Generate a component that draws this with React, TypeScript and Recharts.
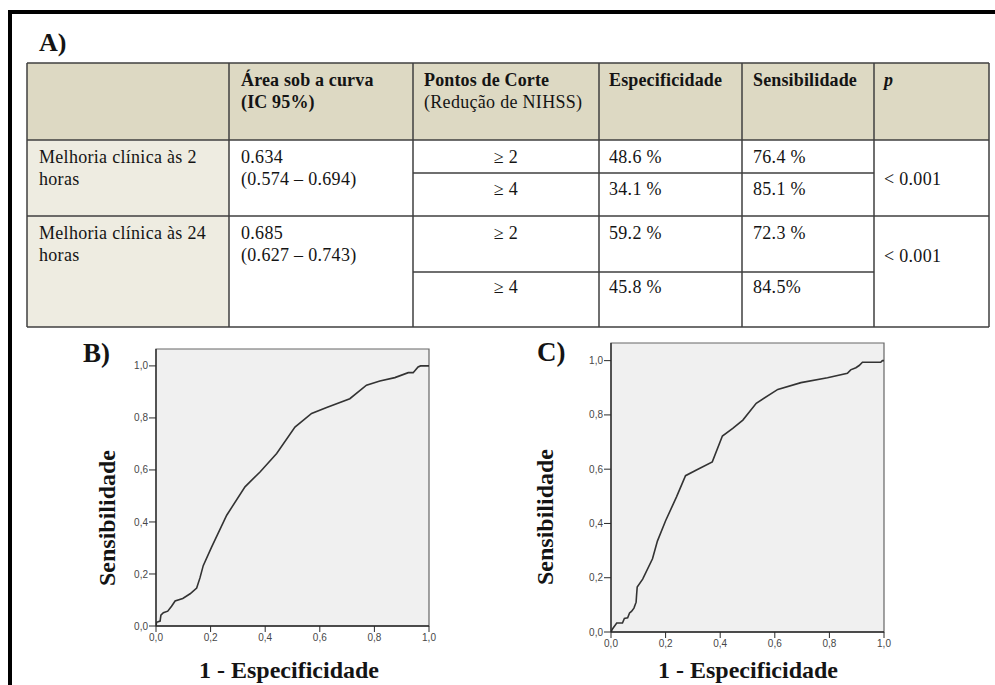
import React from "react";
import { LineChart, Line, XAxis, YAxis, CartesianGrid, ReferenceArea } from "recharts";

// eixos das curvas ROC
const TICKS = [0, 0.2, 0.4, 0.6, 0.8, 1.0];
const TICK_LABELS = ["0,0", "0,2", "0,4", "0,6", "0,8", "1,0"];
const Y_MAX = 1.065;

// B) melhoria clínica às 2 horas
const B_FPR = [0, 0.002, 0.015, 0.018, 0.027, 0.043, 0.057, 0.07, 0.098, 0.125, 0.149, 0.161, 0.173, 0.204, 0.259, 0.326, 0.381, 0.442, 0.509, 0.57, 0.625, 0.71, 0.771, 0.82, 0.875, 0.924, 0.942, 0.96, 0.969, 1.0];
const B_SENS = [0, 0.014, 0.019, 0.042, 0.051, 0.057, 0.076, 0.096, 0.106, 0.124, 0.146, 0.185, 0.232, 0.304, 0.426, 0.535, 0.592, 0.663, 0.765, 0.817, 0.84, 0.874, 0.926, 0.942, 0.955, 0.974, 0.974, 0.996, 1.0, 1.0];

// C) melhoria clínica às 24 horas
const C_FPR = [0, 0.006, 0.021, 0.042, 0.049, 0.061, 0.068, 0.075, 0.084, 0.092, 0.094, 0.096, 0.116, 0.152, 0.17, 0.2, 0.24, 0.273, 0.313, 0.371, 0.408, 0.446, 0.483, 0.532, 0.611, 0.696, 0.793, 0.866, 0.878, 0.897, 0.909, 0.921, 0.988, 0.994, 1.0];
const C_SENS = [0, 0.012, 0.033, 0.033, 0.05, 0.052, 0.07, 0.076, 0.088, 0.11, 0.14, 0.166, 0.195, 0.27, 0.335, 0.41, 0.498, 0.576, 0.597, 0.627, 0.722, 0.75, 0.781, 0.843, 0.894, 0.919, 0.937, 0.953, 0.966, 0.974, 0.982, 0.994, 0.994, 1.0, 1.0];

// tabela A)
const ROW_LABELS = [["Melhoria clínica às 2", "horas"], ["Melhoria clínica às 24", "horas"]];
const AUC = ["0.634", "0.685"];
const AUC_CI = ["(0.574 – 0.694)", "(0.627 – 0.743)"];
const CUTOFFS = ["≥ 2", "≥ 4"];
const SPEC = [["48.6 %", "34.1 %"], ["59.2 %", "45.8 %"]];
const SENS = [["76.4 %", "85.1 %"], ["72.3 %", "84.5%"]];
const P_VALUES = ["< 0.001", "< 0.001"];

const SERIF = "'Liberation Serif', 'Times New Roman', serif";
const SANS = "'Liberation Sans', Arial, sans-serif";
const INK = "#141414";
const LINE = "#3f3f3f";

// geometria da tabela
const COLS = [27, 229, 413, 599, 742, 874, 989];
const Y_HEAD = 63, Y_R1 = 140, Y_R1B = 173, Y_R2 = 216, Y_R2B = 272, Y_END = 327;

const fmt = (v: number) => TICK_LABELS[TICKS.indexOf(v)] ?? String(v);

function Roc({ fpr, sens, left, top, height }: { fpr: number[]; sens: number[]; left: number; top: number; height: number }) {
  const data = fpr.map((x, i) => ({ x, y: sens[i] }));
  const tick = { fontSize: 10, fill: "#474747", fontFamily: SANS };
  return (
    <div style={{ position: "absolute", left, top }}>
      <LineChart width={343} height={height} data={data} margin={{ top: 10, right: 20, left: 0, bottom: 0 }}>
        <CartesianGrid fill="#f0f0f0" horizontal={false} vertical={false} />
        <ReferenceArea x1={0} x2={1} y1={0} y2={Y_MAX} fill="none" stroke="#666" strokeWidth={1.2} />
        <XAxis
          type="number" dataKey="x" domain={[0, 1]} ticks={TICKS} tickFormatter={fmt}
          height={30} tickSize={6} tickMargin={2} tick={tick}
          axisLine={{ stroke: "#2a2a2a", strokeWidth: 1.3 }} tickLine={{ stroke: "#2a2a2a" }}
          allowDataOverflow
        />
        <YAxis
          type="number" domain={[0, Y_MAX]} ticks={TICKS} tickFormatter={fmt}
          width={50} tickSize={7} tickMargin={1} tick={tick}
          axisLine={{ stroke: "#2a2a2a", strokeWidth: 1.3 }} tickLine={{ stroke: "#2a2a2a" }}
          allowDataOverflow
        />
        <Line type="linear" dataKey="y" stroke="#333" strokeWidth={1.6} dot={false} isAnimationActive={false} />
      </LineChart>
    </div>
  );
}

function T({ x, y, children, bold, italic, anchor }: any) {
  return (
    <text x={x} y={y} fontFamily={SERIF} fontSize={18} fill={INK} letterSpacing={bold ? 0.15 : 0.3}
      fontWeight={bold ? 700 : 400} fontStyle={italic ? "italic" : "normal"} textAnchor={anchor || "start"}>
      {children}
    </text>
  );
}

export default function App() {
  const mid3 = (COLS[2] + COLS[3]) / 2;
  return (
    <div style={{ position: "absolute", left: 0, top: 0, width: 995, height: 685, overflow: "hidden", background: "#fff" }}>
      <svg width={995} height={685} style={{ position: "absolute", left: 0, top: 0 }}>
        {/* moldura */}
        <rect x={10} y={12} width={1010} height={700} fill="none" stroke="#000" strokeWidth={4} />

        {/* fundos */}
        <rect x={COLS[0]} y={Y_HEAD} width={COLS[6] - COLS[0]} height={Y_R1 - Y_HEAD} fill="#ddd9c3" />
        <rect x={COLS[0]} y={Y_R1} width={COLS[1] - COLS[0]} height={Y_END - Y_R1} fill="#eeece1" />

        {/* linhas */}
        <g stroke={LINE} strokeWidth={1.5}>
          {[Y_HEAD, Y_R1, Y_R2, Y_END].map((y) => (
            <line key={y} x1={COLS[0]} x2={COLS[6]} y1={y} y2={y} />
          ))}
          {[Y_R1B, Y_R2B].map((y) => (
            <line key={y} x1={COLS[2]} x2={COLS[5]} y1={y} y2={y} />
          ))}
          {COLS.map((x) => (
            <line key={x} x1={x} x2={x} y1={Y_HEAD} y2={Y_END} />
          ))}
        </g>

        <text x={39} y={51} fontFamily={SERIF} fontSize={26} fontWeight={700} fill={INK}>A)</text>

        {/* cabeçalho */}
        <T x={241} y={86} bold>Área sob a curva</T>
        <T x={241} y={108} bold>(IC 95%)</T>
        <T x={424} y={86} bold>Pontos de Corte</T>
        <T x={424} y={108}>(Redução de NIHSS)</T>
        <T x={609} y={86} bold>Especificidade</T>
        <T x={753} y={86} bold>Sensibilidade</T>
        <T x={884} y={86} bold italic>p</T>

        {/* linha 1 */}
        <T x={39} y={163}>{ROW_LABELS[0][0]}</T>
        <T x={39} y={185}>{ROW_LABELS[0][1]}</T>
        <T x={241} y={163}>{AUC[0]}</T>
        <T x={241} y={185}>{AUC_CI[0]}</T>
        <T x={mid3} y={163} anchor="middle">{CUTOFFS[0]}</T>
        <T x={mid3} y={195} anchor="middle">{CUTOFFS[1]}</T>
        <T x={609} y={163}>{SPEC[0][0]}</T>
        <T x={609} y={195}>{SPEC[0][1]}</T>
        <T x={753} y={163}>{SENS[0][0]}</T>
        <T x={753} y={195}>{SENS[0][1]}</T>
        <T x={884} y={185}>{P_VALUES[0]}</T>

        {/* linha 2 */}
        <T x={39} y={239}>{ROW_LABELS[1][0]}</T>
        <T x={39} y={261}>{ROW_LABELS[1][1]}</T>
        <T x={241} y={239}>{AUC[1]}</T>
        <T x={241} y={261}>{AUC_CI[1]}</T>
        <T x={mid3} y={239} anchor="middle">{CUTOFFS[0]}</T>
        <T x={mid3} y={293} anchor="middle">{CUTOFFS[1]}</T>
        <T x={609} y={239}>{SPEC[1][0]}</T>
        <T x={609} y={293}>{SPEC[1][1]}</T>
        <T x={753} y={239}>{SENS[1][0]}</T>
        <T x={753} y={293}>{SENS[1][1]}</T>
        <T x={884} y={262}>{P_VALUES[1]}</T>

        {/* títulos dos gráficos */}
        <text x={83} y={362} fontFamily={SERIF} fontSize={27} fontWeight={700} fill={INK}>B)</text>
        <text x={537} y={361} fontFamily={SERIF} fontSize={27} fontWeight={700} fill={INK}>C)</text>
        <text x={115} y={518} transform="rotate(-90 115 518)" textAnchor="middle" fontFamily={SERIF} fontSize={24} fontWeight={700} fill={INK}>Sensibilidade</text>
        <text x={553} y={517} transform="rotate(-90 553 517)" textAnchor="middle" fontFamily={SERIF} fontSize={24} fontWeight={700} fill={INK}>Sensibilidade</text>
        <text x={289} y={678} textAnchor="middle" fontFamily={SERIF} fontSize={24} fontWeight={700} fill={INK}>1 - Especificidade</text>
        <text x={748} y={678} textAnchor="middle" fontFamily={SERIF} fontSize={24} fontWeight={700} fill={INK}>1 - Especificidade</text>
      </svg>

      <Roc fpr={B_FPR} sens={B_SENS} left={106} top={339} height={317} />
      <Roc fpr={C_FPR} sens={C_SENS} left={561} top={333} height={329} />
    </div>
  );
}
